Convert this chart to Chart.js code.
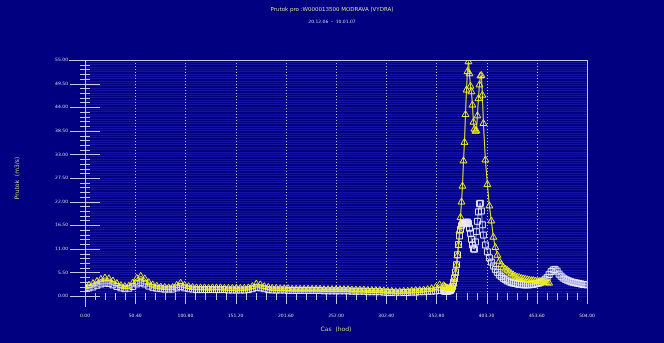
<!DOCTYPE html>
<html lang="cs">
<head>
    <meta charset="UTF-8">
    <title>Prutok MODRAVA (VYDRA)</title>
    <script src="https://cdn.jsdelivr.net/npm/chart.js"></script>
    <style>
        body { margin: 0; background: #000080; }
        #wrap { width: 664px; height: 343px; }
    </style>
</head>
<body>
<div id="wrap"><canvas id="flowChart" width="664" height="343"></canvas></div>
<script>
    // hodiny (cas od zacatku obdobi)
    const hours = [
        0,4,8,12,16,20,24,28,32,36,40,44,48,52,56,60,64,68,72,76,
        80,84,88,92,96,100,104,108,112,116,120,124,128,132,136,140,144,148,152,156,
        160,164,168,172,176,180,184,188,192,196,200,204,208,212,216,220,224,228,232,236,
        240,244,248,252,256,260,264,268,272,276,280,284,288,292,296,300,304,308,312,316,
        320,324,328,332,336,340,344,348,352,356,360,
        361,362,363,364,365,366,367,368,369,370,371,372,373,374,375,376,377,378,379,380,
        381,382,383,384,385,386,387,388,389,390,391,392,393,394,395,396,397,398,399,400,
        402,404,406,408,410,412,414,416,418,420,422,424,426,428,430,432,434,436,438,440,
        442,444,446,448,450,452,454,456,458,460,462,464,466,468,470,472,474,476,478,480,
        482,484,486,488,490,492,494,496,498,500,502,504
    ];

    // mereny prutok (ctverce)
    const measured = [
        1.8,1.9,2.1,2.5,2.8,3.0,2.9,2.6,2.2,1.9,
        1.7,1.8,2.2,2.8,3.1,2.8,2.3,2.0,1.8,1.7,
        1.6,1.6,1.6,1.9,2.2,1.9,1.7,1.6,1.5,1.5,
        1.5,1.5,1.5,1.5,1.5,1.5,1.4,1.4,1.4,1.4,
        1.4,1.5,1.7,2.0,1.9,1.7,1.5,1.4,1.4,1.4,
        1.4,1.3,1.3,1.3,1.3,1.3,1.3,1.3,1.3,1.3,
        1.2,1.2,1.2,1.2,1.2,1.2,1.2,1.1,1.1,1.1,
        1.1,1.0,1.0,1.0,1.0,0.9,0.8,0.8,0.7,0.7,
        0.8,0.8,0.9,0.9,1.0,1.0,1.1,1.1,1.2,1.3,
        1.2,
        1.1,1.1,1.1,1.1,1.2,1.2,1.3,1.6,2.2,3.2,
        4.2,5.6,7.3,9.6,12.0,14.0,15.5,16.4,16.8,17.0,
        17.0,17.1,17.2,17.2,16.9,15.8,14.6,13.2,11.9,11.0,
        10.9,12.6,15.0,17.4,19.6,21.5,21.6,19.8,16.6,14.2,
        11.9,10.3,8.9,7.9,7.0,6.2,5.5,4.9,4.5,4.1,
        3.8,3.5,3.3,3.1,3.0,2.9,2.8,2.7,2.7,2.6,
        2.6,2.6,2.6,2.7,2.7,2.8,2.9,3.0,3.2,3.5,
        3.9,4.3,5.0,5.7,6.1,6.2,5.8,5.1,4.6,4.2,
        3.9,3.7,3.5,3.3,3.2,3.1,3.0,2.9,2.8,2.7,
        2.7,2.6
    ];

    // modelovany prutok (trojuhelniky)
    const modelled = [
        2.2,2.5,2.9,3.4,3.9,4.2,4.0,3.5,2.9,2.4,
        2.2,2.3,3.0,4.1,4.6,4.0,3.1,2.6,2.3,2.1,
        2.0,1.9,2.0,2.5,3.0,2.5,2.2,2.0,1.9,1.9,
        1.9,1.8,1.9,1.9,1.9,1.8,1.8,1.8,1.8,1.8,
        1.8,1.9,2.2,2.8,2.6,2.2,2.0,1.8,1.8,1.7,
        1.7,1.7,1.6,1.6,1.6,1.6,1.6,1.6,1.6,1.6,
        1.5,1.5,1.5,1.5,1.5,1.5,1.5,1.4,1.4,1.4,
        1.4,1.3,1.3,1.3,1.3,1.2,1.1,1.1,1.0,1.0,
        1.1,1.1,1.2,1.3,1.3,1.4,1.5,1.7,2.0,2.6,
        2.4,
        2.2,2.0,1.9,1.8,1.7,1.7,1.7,1.8,2.1,2.8,
        3.9,5.3,7.2,9.4,11.8,15.2,18.3,21.9,25.6,31.5,
        35.8,42.3,48.0,52.3,54.6,51.8,48.9,47.6,44.5,40.5,
        38.9,38.4,38.5,42.0,46.0,49.2,51.3,51.4,46.8,40.2,
        31.7,26.0,21.0,17.5,13.7,11.3,9.5,8.1,7.3,6.7,
        6.3,6.0,5.6,5.2,4.9,4.6,4.4,4.3,4.1,4.0,
        3.9,3.8,3.7,3.6,3.6,3.5,3.4,3.4,3.3,3.3,
        3.2,3.1,3.0
    ];

    const xMax = 504, xStep = 50.4;
    const yMax = 55, yStep = 5.5;

    const toPoints = vals => hours.map((h, i) => ({ x: h, y: i < vals.length ? vals[i] : null }));

    // osy: dlouhe a kratke carky, teckovana mrizka, ramecek
    const axisDecor = {
        id: 'axisDecor',
        beforeDatasetsDraw(chart) {
            const { ctx, chartArea: a, scales: { x, y } } = chart;
            ctx.save();
            ctx.strokeStyle = 'rgba(230,230,245,0.85)';
            ctx.lineWidth = 1;
            ctx.setLineDash([1, 2]);
            ctx.beginPath();
            for (let k = 1; k < 10; k++) {
                const px = Math.round(x.getPixelForValue(k * xStep)) + 0.5;
                ctx.moveTo(px, a.top); ctx.lineTo(px, a.bottom);
            }
            ctx.stroke();
            ctx.setLineDash([]);
            ctx.strokeStyle = '#c8c8d8';
            ctx.beginPath();
            ctx.moveTo(a.left - 16, a.top + 0.5); ctx.lineTo(a.right, a.top + 0.5);
            ctx.moveTo(a.right + 0.5, a.top); ctx.lineTo(a.right + 0.5, a.bottom);
            ctx.moveTo(a.left + 0.5, a.top); ctx.lineTo(a.left + 0.5, a.bottom + 11);
            for (let k = 0; k <= 50; k++) {
                const py = Math.round(y.getPixelForValue(k * yStep / 5)) + 0.5;
                const len = k % 5 === 0 ? 15 : 5;
                ctx.moveTo(a.left - len, py); ctx.lineTo(a.left + len, py);
            }
            for (let k = 0; k <= 50; k++) {
                const px = Math.round(x.getPixelForValue(k * xStep / 5)) + 0.5;
                const major = k % 5 === 0;
                ctx.moveTo(px, a.bottom - 3); ctx.lineTo(px, a.bottom + (major ? 8 : 4));
            }
            ctx.stroke();
            ctx.restore();
        }
    };

    new Chart(document.getElementById('flowChart'), {
        type: 'line',
        data: {
            datasets: [{
                label: 'model',
                data: toPoints(modelled),
                borderColor: '#f0f020',
                borderWidth: 1,
                pointStyle: 'triangle',
                pointRadius: 4,
                pointBorderColor: '#f0f020',
                pointBackgroundColor: 'rgba(0,0,0,0)',
                pointBorderWidth: 1,
                tension: 0
            }, {
                label: 'mereno',
                data: toPoints(measured),
                borderColor: 'rgba(235,235,255,0.8)',
                borderWidth: 0.8,
                pointStyle: 'rect',
                pointRadius: 4.2,
                pointBorderColor: '#e8e8ff',
                pointBackgroundColor: 'rgba(0,0,0,0)',
                pointBorderWidth: 1,
                tension: 0
            }]
        },
        options: {
            responsive: false,
            animation: false,
            layout: { padding: { left: 0, right: 0, top: 0, bottom: 8 } },
            plugins: {
                legend: { display: false },
                tooltip: { enabled: false },
                title: {
                    display: true,
                    text: 'Prutok pro :W000013500 MODRAVA (VYDRA)',
                    color: '#d8d8a0',
                    font: { family: 'DejaVu Sans', size: 5.5, weight: 'normal' },
                    padding: { top: 6, bottom: 4 }
                },
                subtitle: {
                    display: true,
                    text: '20.12.06  -  10.01.07',
                    color: '#d0d0e0',
                    font: { family: 'DejaVu Sans', size: 4.5 },
                    padding: { top: 3, bottom: 35 }
                }
            },
            scales: {
                x: {
                    type: 'linear',
                    min: 0,
                    max: xMax,
                    afterFit(s) { s.height = 39; },
                    ticks: {
                        stepSize: xStep,
                        autoSkip: false,
                        maxRotation: 0,
                        padding: 17,
                        color: '#d8d8e8',
                        font: { family: 'DejaVu Sans', size: 4.5 },
                        callback: v => v.toFixed(2)
                    },
                    grid: { display: false, drawTicks: false },
                    border: { display: false },
                    title: {
                        display: true,
                        text: 'Cas  (hod)',
                        color: '#d0d080',
                        font: { family: 'DejaVu Sans', size: 6 },
                        padding: { top: 4, bottom: 2 }
                    }
                },
                y: {
                    min: 0,
                    max: yMax,
                    afterFit(s) { s.width = 85; },
                    ticks: {
                        stepSize: yStep / 10,
                        autoSkip: false,
                        padding: 17,
                        color: '#d8d8e8',
                        font: { family: 'DejaVu Sans', size: 4.5 },
                        callback: (v, i) => i % 10 === 0 ? v.toFixed(2) : ''
                    },
                    grid: {
                        drawTicks: false,
                        color: 'rgba(45,45,215,0.42)',
                        lineWidth: 1
                    },
                    border: { display: false },
                    title: {
                        display: true,
                        text: 'Prutok  (m3/s)',
                        color: '#d0d080',
                        font: { family: 'DejaVu Sans', size: 6 },
                        padding: { top: 14, bottom: 0 }
                    }
                },
                right: {
                    position: 'right',
                    min: 0,
                    max: yMax,
                    afterFit(s) { s.width = 77; },
                    ticks: { display: false },
                    grid: { display: false, drawTicks: false },
                    border: { display: false }
                }
            }
        },
        plugins: [axisDecor, {
            id: 'bg',
            beforeDraw(chart) {
                const c = chart.ctx;
                c.save();
                c.fillStyle = '#000080';
                c.fillRect(0, 0, chart.width, chart.height);
                c.restore();
            }
        }]
    });
</script>
</body>
</html>
